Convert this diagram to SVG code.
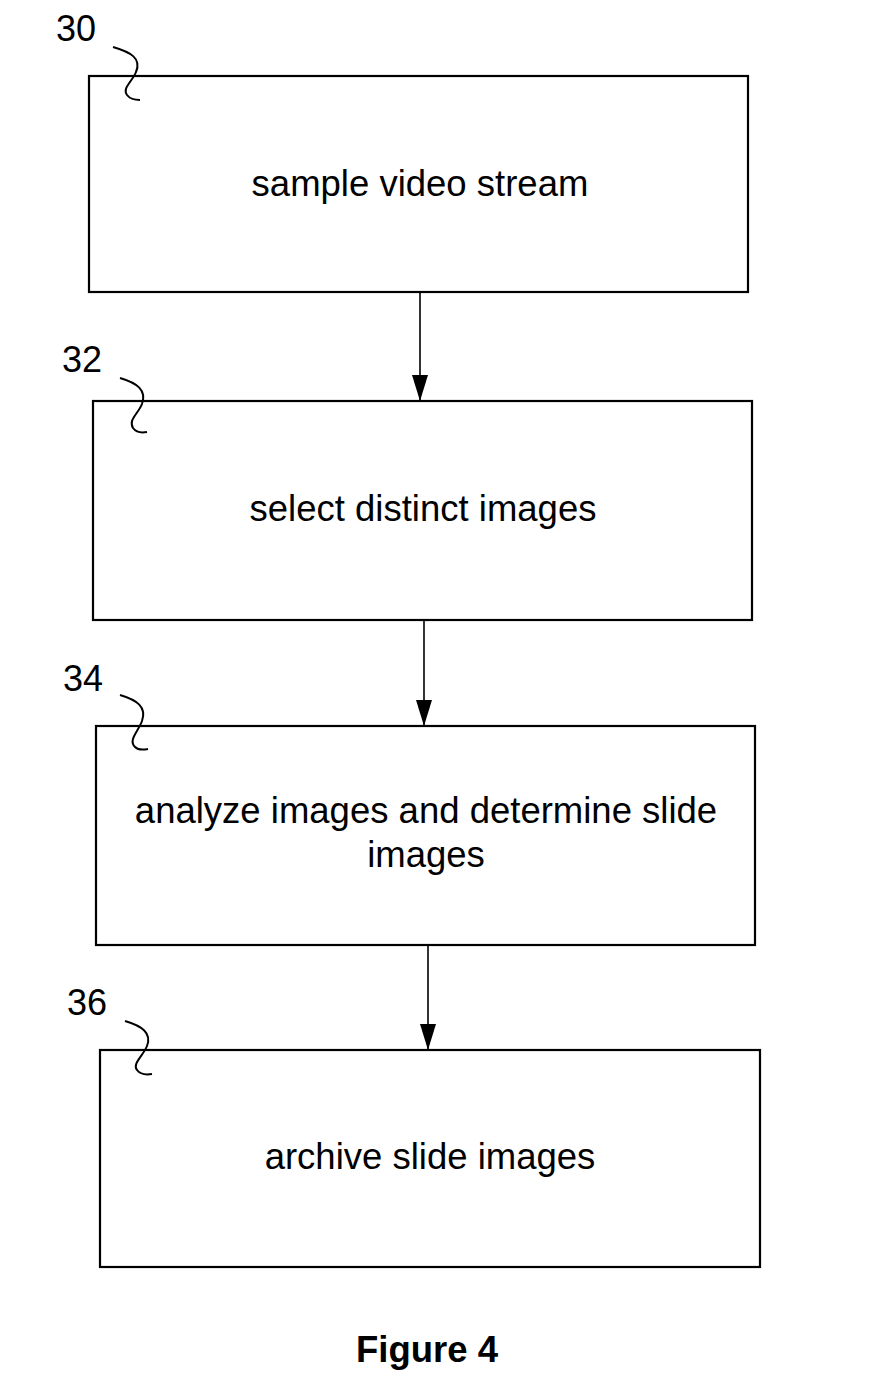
<svg xmlns="http://www.w3.org/2000/svg" width="877" height="1382" viewBox="0 0 877 1382">
<style>
.box{fill:#fff;stroke:#000;stroke-width:2.2}
.txt{font-family:"Liberation Sans",Arial,sans-serif;font-size:36.5px;fill:#000;text-anchor:middle}
.ref{font-family:"Liberation Sans",Arial,sans-serif;font-size:36px;fill:#000}
.sq{fill:none;stroke:#000;stroke-width:2}
.conn{stroke:#000;stroke-width:1.6;fill:none}
.title{font-family:"Liberation Sans",Arial,sans-serif;font-size:36.5px;font-weight:bold;fill:#000;text-anchor:middle}
</style>
<defs>
<marker id="ah" markerWidth="26" markerHeight="16" refX="26" refY="8" orient="auto" markerUnits="userSpaceOnUse" viewBox="0 0 26 16">
<path d="M0,0 L26,8 L0,16 Z" fill="#000"/>
</marker>
</defs>
<rect width="877" height="1382" fill="#fff"/>
<g id="connectors">
<line class="conn" x1="420" y1="292" x2="420" y2="401" marker-end="url(#ah)"/>
<line class="conn" x1="424" y1="620" x2="424" y2="726" marker-end="url(#ah)"/>
<line class="conn" x1="428" y1="945" x2="428" y2="1050" marker-end="url(#ah)"/>
</g>
<g id="node30">
<rect class="box" x="89" y="76" width="659" height="216"/>
<text class="txt" x="420" y="196">sample video stream</text>
<text class="ref" x="56" y="41">30</text>
<path class="sq" d="M113,47 C130,52 142,58 136,72 C132,82 122,88 127,95 C130,99 136,100 140,100"/>
</g>
<g id="node32">
<rect class="box" x="93" y="401" width="659" height="219"/>
<text class="txt" x="423" y="521">select distinct images</text>
<text class="ref" x="62" y="372">32</text>
<path class="sq" d="M120,378 C137,383 147,390 142,404 C138,414 128,420 133,428 C136,432 142,433 147,432"/>
</g>
<g id="node34">
<rect class="box" x="96" y="726" width="659" height="219"/>
<text class="txt" x="426" y="823">analyze images and determine slide</text>
<text class="txt" x="426" y="867">images</text>
<text class="ref" x="63" y="691">34</text>
<path class="sq" d="M120,695 C137,700 147,707 142,721 C138,732 128,740 135,747 C138,750 143,750 148,749"/>
</g>
<g id="node36">
<rect class="box" x="100" y="1050" width="660" height="217"/>
<text class="txt" x="430" y="1169">archive slide images</text>
<text class="ref" x="67" y="1015">36</text>
<path class="sq" d="M125,1021 C142,1026 152,1033 147,1046 C143,1056 132,1064 137,1070 C140,1074 146,1075 152,1074"/>
</g>
<text class="title" x="427" y="1362">Figure 4</text>
</svg>
